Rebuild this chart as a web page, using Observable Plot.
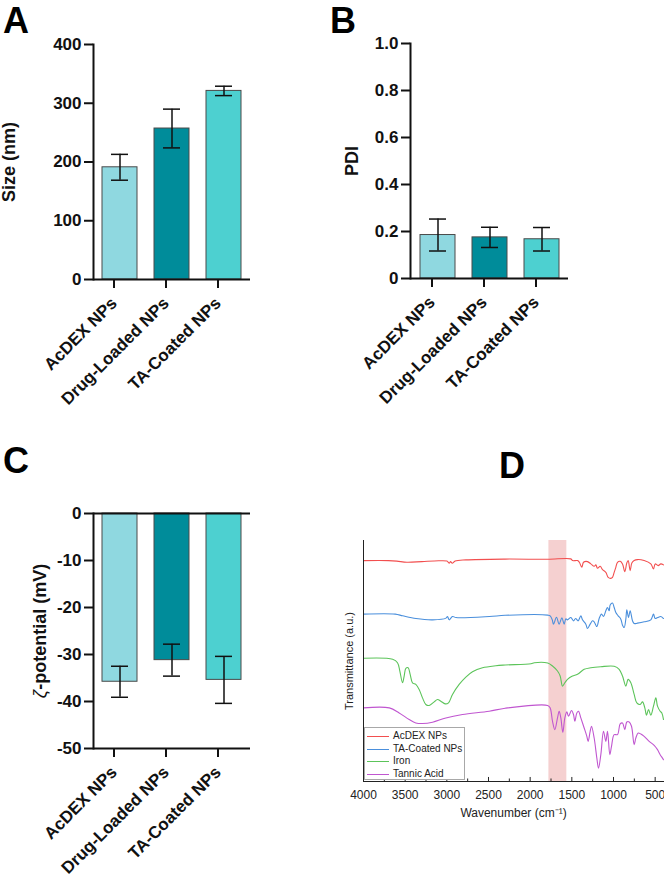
<!DOCTYPE html>
<html>
<head>
<meta charset="utf-8">
<script src="https://cdn.jsdelivr.net/npm/d3@7"></script>
<script src="https://cdn.jsdelivr.net/npm/@observablehq/plot@0.6"></script>
<style>
  body { margin: 0; background: #fff; }
  #fig { position: relative; width: 664px; height: 877px; background: #fff; overflow: hidden;
         font-family: "Liberation Sans", Arial, Helvetica, sans-serif; }
  .panel { position: absolute; }
  .panel svg { display: block; }
  .letter { position: absolute; font-weight: bold; font-size: 36px; line-height: 36px; color: #000; }
  .legend { position: absolute; box-sizing: border-box; border: 1px solid #a8a8a8; background: #fff;
            font-size: 10px; color: #222; }
  .legend .row { position: absolute; left: 0; height: 12px; width: 100%; }
  .legend .sw { position: absolute; left: 2px; top: 6px; width: 22px; height: 1px; }
  .legend .lb { position: absolute; left: 28px; top: 0; line-height: 12px; white-space: nowrap; }
</style>
</head>
<body>
<div id="fig">
  <div class="panel" id="pA" style="left:0px;top:0px"></div>
  <div class="panel" id="pB" style="left:332px;top:0px"></div>
  <div class="panel" id="pC" style="left:0px;top:440px"></div>
  <div class="panel" id="pD" style="left:332px;top:530px"></div>
  <div class="letter" style="left:3px;top:2.5px">A</div>
  <div class="letter" style="left:330px;top:2.5px">B</div>
  <div class="letter" style="left:3px;top:443px">C</div>
  <div class="letter" style="left:499px;top:448px">D</div>
  <div class="legend" id="legD" style="left:364px;top:727px;width:101px;height:53px"></div>
</div>
<script>
// ---------- data: bar panels ----------
const categories = ["AcDEX NPs", "Drug-Loaded NPs", "TA-Coated NPs"];
const barColors = ["#8fd8e0", "#008c9a", "#4dd0d0"];

const sizeMean = [191, 257, 321];
const sizeErr = [22, 33, 8];
const sizeTicks = [0, 100, 200, 300, 400];

const pdiMean = [0.185, 0.175, 0.167];
const pdiErr = [0.068, 0.043, 0.05];
const pdiTicks = [0, 0.2, 0.4, 0.6, 0.8, 1.0];

const zetaMean = [-35.8, -31.2, -35.4];
const zetaErr = [3.3, 3.4, 5.0];
const zetaTicks = [0, -10, -20, -30, -40, -50];

// ---------- data: FTIR spectra (wavenumber cm-1, transmittance a.u.) ----------
const seriesNames = ["AcDEX NPs", "TA-Coated NPs", "Iron", "Tannic Acid"];
const seriesColors = ["#f24f4f", "#4a8fdc", "#5cc45a", "#c056d0"];

const acdexWn = [4000, 3700, 3600, 3480, 3300, 3100, 3000, 2970, 2955, 2935, 2900, 2770, 2300, 1790, 1512, 1492, 1432, 1410, 1380, 1360, 1312, 1272, 1232, 1212, 1192, 1160, 1132, 1092, 1064, 1032, 1012, 992, 972, 952, 920, 892, 864, 840, 824, 800, 780, 752, 712, 632, 552, 520, 500, 464, 432, 400];
const acdexT = [220, 220, 219.5, 218.3, 219, 219.8, 219.5, 217.5, 219, 217.3, 219.5, 220.7, 221.5, 221.3, 221.7, 220, 220, 218.3, 213.3, 218.3, 219, 216.7, 214.3, 215.7, 212.3, 214.3, 211, 208.3, 203.3, 202.3, 203.3, 208.3, 213.3, 218.3, 219.3, 216.7, 209, 217.7, 220, 210, 217.7, 220, 221, 220, 216.7, 211.7, 216.7, 215, 216.7, 215.7];

const taCoatedWn = [4000, 3620, 3530, 3370, 3170, 3010, 2992, 2972, 2932, 2890, 2490, 2300, 1790, 1760, 1735, 1720, 1684, 1652, 1620, 1592, 1572, 1552, 1512, 1480, 1455, 1424, 1392, 1372, 1332, 1312, 1280, 1252, 1232, 1200, 1172, 1144, 1120, 1092, 1072, 1052, 1040, 1012, 992, 972, 944, 912, 892, 872, 852, 840, 820, 800, 772, 752, 712, 632, 552, 520, 500, 470, 432, 400];
const taCoatedT = [166.7, 166.7, 165, 162.3, 161, 162.7, 164.3, 161, 164.3, 163.3, 164.3, 165.5, 165.7, 165, 161, 156.7, 163.5, 156.7, 163, 156.7, 162, 161, 163.3, 160, 162.3, 160, 165, 161, 156.7, 152.3, 156.7, 160, 159, 154.3, 162.3, 166.7, 164.3, 170, 173.3, 170, 175.7, 177.7, 173.3, 168.3, 165, 161.7, 155.7, 153.3, 161.7, 171, 163.3, 170, 160, 157.3, 157.7, 159, 161, 166.7, 162.3, 163.3, 164.3, 162.3];

const ironWn = [4000, 3650, 3592, 3564, 3532, 3512, 3492, 3464, 3440, 3412, 3372, 3332, 3292, 3252, 3212, 3152, 3112, 3072, 3020, 2980, 2932, 2852, 2772, 2692, 2572, 2412, 2300, 1990, 1950, 1790, 1732, 1672, 1640, 1612, 1584, 1552, 1492, 1432, 1352, 1272, 1152, 992, 932, 892, 852, 824, 792, 752, 720, 680, 652, 624, 604, 580, 552, 520, 492, 472, 440, 420, 400];
const ironT = [122.7, 121.7, 118.3, 110, 98.3, 105, 112.7, 113.3, 106.7, 98.3, 96.7, 91.7, 83.3, 76.7, 75.7, 79.3, 81.7, 80, 77.3, 78.3, 86.7, 96.7, 104, 109.3, 113.3, 115.3, 116, 117.3, 118.3, 118, 115, 110, 105, 95, 98.3, 101.7, 105, 106.7, 111.7, 113.3, 114.3, 114.7, 111.7, 105, 95, 101.7, 98.3, 86.7, 78.3, 76.7, 79.3, 73.3, 66, 71.7, 66, 75, 83.3, 75, 70, 68.3, 61.7];

const tannicWn = [4000, 3690, 3572, 3452, 3372, 3292, 3172, 3012, 2812, 2492, 2300, 1790, 1760, 1732, 1704, 1672, 1652, 1632, 1608, 1584, 1560, 1540, 1504, 1480, 1464, 1440, 1420, 1392, 1352, 1320, 1304, 1280, 1264, 1232, 1200, 1180, 1152, 1120, 1092, 1072, 1044, 1024, 992, 952, 920, 892, 864, 840, 812, 784, 752, 732, 704, 672, 632, 572, 512, 472, 440, 412, 400];
const tannicT = [73.3, 73.3, 68.3, 61.7, 58.3, 57.7, 59, 63.3, 66.7, 70, 73, 75.7, 73.3, 60, 51.7, 63.3, 70, 63.3, 49, 63.3, 69.3, 65, 70.7, 66.7, 60, 68.3, 70, 63.3, 53.3, 45, 40, 50, 55, 43.3, 23.3, 13.3, 26.7, 50, 40, 50, 26.7, 35, 46.7, 46.7, 57.3, 58.3, 51.7, 59.3, 59.3, 55, 36.7, 43.3, 48.3, 47.3, 45, 40, 36, 31.7, 26.7, 23.3, 21.7];

const wnDomain = [4000, 400];
const tDomain = [0, 240];
const wnTicks = [4000, 3500, 3000, 2500, 2000, 1500, 1000, 500];
const wnMinorTicks = [3750, 3250, 2750, 2250, 1750, 1250, 750];
const highlightBand = [1775, 1560];

// ---------- drawing ----------
const FONT = '"Liberation Sans", Arial, Helvetica, sans-serif';
const INK = "#111";

function barPanel(o) {
  const tbl = categories.map((c, i) => ({cat: c, v: o.means[i], e: o.errs[i]}));
  const baseRules = Array.from(new Set([0, o.yDomain[0]]));
  return Plot.plot({
    width: o.width, height: o.height,
    marginLeft: o.ml, marginRight: o.mr, marginTop: o.mt, marginBottom: o.mb,
    style: {fontFamily: FONT, background: "transparent", overflow: "visible", color: INK},
    x: {domain: categories, paddingInner: 0.33, paddingOuter: 0.165},
    y: {domain: o.yDomain},
    color: {domain: categories, range: barColors},
    marks: [
      Plot.barY(tbl, {x: "cat", y: "v", fill: "cat", stroke: "#4a4a4a", strokeWidth: 1}),
      Plot.ruleX(tbl, {x: "cat", y1: d => d.v - d.e, y2: d => d.v + d.e, stroke: INK, strokeWidth: 1.5}),
      Plot.tickY(tbl, {x: "cat", y: d => d.v + d.e, inset: 9, stroke: INK, strokeWidth: 1.5}),
      Plot.tickY(tbl, {x: "cat", y: d => d.v - d.e, inset: 9, stroke: INK, strokeWidth: 1.5}),
      Plot.ruleY(baseRules, {stroke: INK, strokeWidth: 2}),
      Plot.frame({anchor: "left", stroke: INK, strokeWidth: 2}),
      Plot.axisY({ticks: o.ticks, tickFormat: o.tickFormat, tickSize: 9, tickPadding: 3,
                  stroke: INK, strokeWidth: 2, fontSize: 17, fontWeight: "bold", label: null}),
      Plot.axisY({ticks: [], tickSize: 0, label: o.label, labelAnchor: "center", labelArrow: "none",
                  labelOffset: o.labelOffset, fontSize: 18, fontWeight: "bold"}),
      Plot.axisX({tickSize: 9, tickPadding: 12, dx: -6, tickRotate: -45, stroke: INK, strokeWidth: 2,
                  fontSize: 17, fontWeight: "bold", label: null})
    ]
  });
}

const plotA = barPanel({
  means: sizeMean, errs: sizeErr, ticks: sizeTicks, yDomain: [0, 400], tickFormat: d => String(d),
  label: "Size (nm)", labelOffset: 91,
  width: 332, height: 440, ml: 93, mr: 82, mt: 44, mb: 161
});
document.getElementById("pA").appendChild(plotA);

const plotB = barPanel({
  means: pdiMean, errs: pdiErr, ticks: pdiTicks, yDomain: [0, 1],
  tickFormat: d => d === 0 ? "0" : d.toFixed(1),
  label: "PDI", labelOffset: 65,
  width: 332, height: 440, ml: 78, mr: 96, mt: 43, mb: 162
});
document.getElementById("pB").appendChild(plotB);

const plotC = barPanel({
  means: zetaMean, errs: zetaErr, ticks: zetaTicks, yDomain: [-50, 0], tickFormat: d => String(d),
  label: "ζ-potential (mV)", labelOffset: 60,
  width: 332, height: 437, ml: 93, mr: 82, mt: 73, mb: 129
});
document.getElementById("pC").appendChild(plotC);
// italic, light zeta symbol
(function () {
  const labs = plotC.querySelectorAll('g[aria-label="y-axis label"] text');
  labs.forEach(t => {
    if (t.textContent.indexOf("ζ") === 0) {
      t.textContent = "";
      const ns = "http://www.w3.org/2000/svg";
      const z = document.createElementNS(ns, "tspan");
      z.setAttribute("font-style", "italic");
      z.setAttribute("font-weight", "normal");
      z.textContent = "ζ";
      const rest = document.createElementNS(ns, "tspan");
      rest.textContent = "-potential (mV)";
      t.appendChild(z); t.appendChild(rest);
    }
  });
})();

// FTIR
const wnArrays = [acdexWn, taCoatedWn, ironWn, tannicWn];
const tArrays = [acdexT, taCoatedT, ironT, tannicT];
const spectra = seriesNames.flatMap((name, i) =>
  wnArrays[i].map((w, j) => ({series: name, wn: w, t: tArrays[i][j]})));

const plotD = Plot.plot({
  width: 332, height: 347,
  marginLeft: 31, marginRight: 1, marginTop: 10, marginBottom: 96,
  style: {fontFamily: FONT, background: "transparent", overflow: "visible", color: "#222"},
  x: {domain: wnDomain},
  y: {domain: tDomain},
  color: {domain: seriesNames, range: seriesColors},
  marks: [
    Plot.rect([highlightBand], {x1: d => d[0], x2: d => d[1], fill: "#f5d0d0"}),
    Plot.line(spectra, {x: "wn", y: "t", z: "series", stroke: "series", strokeWidth: 1.1, curve: "catmull-rom"}),
    Plot.frame({anchor: "left", stroke: "#222", strokeWidth: 1}),
    Plot.frame({anchor: "bottom", stroke: "#222", strokeWidth: 1}),
    Plot.ruleX(wnTicks, {y1: 0, y2: 4, stroke: "#222", strokeWidth: 1}),
    Plot.ruleX(wnMinorTicks, {y1: 0, y2: 2.5, stroke: "#222", strokeWidth: 1}),
    Plot.axisX({ticks: wnTicks, tickFormat: d => String(d), tickSize: 0, tickPadding: 9, fontSize: 12,
                label: "Wavenumber (cm⁻¹)", labelAnchor: "center", labelArrow: "none", labelOffset: 35}),
    Plot.axisY({ticks: [], tickSize: 0, label: "Transmittance (a.u.)", labelAnchor: "center",
                labelArrow: "none", labelOffset: 18.5, fontSize: 11})
  ]
});
document.getElementById("pD").appendChild(plotD);

// legend for D
const leg = document.getElementById("legD");
seriesNames.forEach((name, i) => {
  const row = document.createElement("div");
  row.className = "row";
  row.style.top = Math.round(2 + i * 12.5) + "px";
  const sw = document.createElement("div");
  sw.className = "sw";
  sw.style.background = seriesColors[i];
  const lb = document.createElement("div");
  lb.className = "lb";
  lb.textContent = name;
  row.appendChild(sw); row.appendChild(lb);
  leg.appendChild(row);
});
</script>
</body>
</html>
